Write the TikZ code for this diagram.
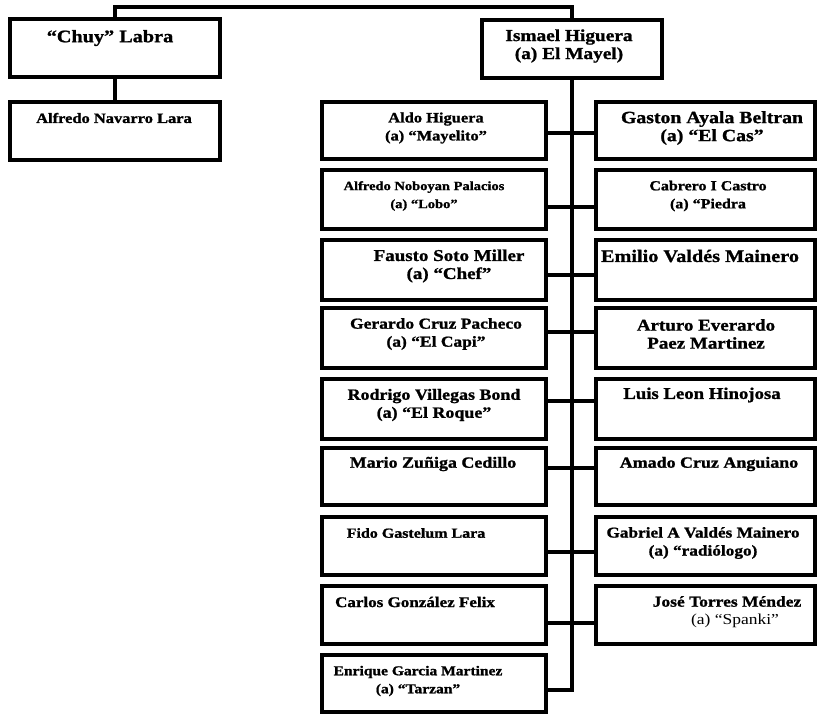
\documentclass[tikz,border=0pt]{standalone}
\usepackage{fontspec}
\setmainfont{Liberation Serif}[FakeStretch=1.15, BoldFeatures={FakeBold=1.2}]
\newcommand{\fsz}[1]{\fontsize{#1}{18}\selectfont\bfseries}
\begin{document}
\begin{tikzpicture}[x=1pt,y=1pt,
  box/.style={draw, line width=4pt, inner sep=0pt},
  lbl/.style={align=center, inner sep=0pt},
  wire/.style={line width=3.6pt},
  lbox/.style={box, minimum width=224pt},
  rbox/.style={box, minimum width=219pt}]
\useasboundingbox (0,0) rectangle (820,-715);
% top level
\node[box, minimum width=210pt, minimum height=58pt] (chuy) at (115,-48) {};
\node[lbl, font=\fsz{17.6}] (tchuy) at (110,-38) {“Chuy” Labra};
\node[box, minimum width=210pt, minimum height=58pt] (alfnav) at (115,-131) {};
\node[lbl, font=\fsz{14.3}] (talfnav) at (114,-118) {Alfredo Navarro Lara};
\node[box, minimum width=180pt, minimum height=58pt] (ismael) at (572,-49) {};
\node[lbl, font=\fsz{16.8}] (tismael) at (569,-46) {Ismael Higuera\\(a) El Mayel)};
% row 1
\node[lbox, minimum height=57pt] (L1) at (434,-130.5) {};
\node[lbl, font=\fsz{14.3}] (tL1) at (436,-128) {Aldo Higuera\\(a) “Mayelito”};
\node[rbox, minimum height=57pt] (R1) at (705.5,-130.5) {};
\node[lbl, font=\fsz{17.2}] (tR1) at (712,-128) {Gaston Ayala Beltran\\(a) “El Cas”};
% row 2
\node[lbox, minimum height=59pt] (L2) at (434,-199.5) {};
\node[lbl, font=\fsz{12.6}] (tL2) at (424,-196) {Alfredo Noboyan Palacios\\(a) “Lobo”};
\node[rbox, minimum height=59pt] (R2) at (705.5,-199.5) {};
\node[lbl, font=\fsz{13.9}] (tR2) at (708,-196) {Cabrero I Castro\\(a) “Piedra};
% row 3
\node[lbox, minimum height=60pt] (L3) at (434,-270) {};
\node[lbl, font=\fsz{16.5}] (tL3) at (449,-266) {Fausto Soto Miller\\(a) “Chef”};
\node[rbox, minimum height=60pt] (R3) at (705.5,-270) {};
\node[lbl, font=\fsz{17.6}] (tR3) at (700,-256) {Emilio Valdés Mainero};
% row 4
\node[lbox, minimum height=60pt] (L4) at (434,-338) {};
\node[lbl, font=\fsz{15.2}] (tL4) at (436,-334) {Gerardo Cruz Pacheco\\(a) “El Capi”};
\node[rbox, minimum height=60pt] (R4) at (705.5,-338) {};
\node[lbl, font=\fsz{16.5}] (tR4) at (706,-334) {Arturo Everardo\\Paez Martinez};
% row 5
\node[lbox, minimum height=60pt] (L5) at (434,-409) {};
\node[lbl, font=\fsz{15.6}] (tL5) at (434,-405) {Rodrigo Villegas Bond\\(a) “El Roque”};
\node[rbox, minimum height=60pt] (R5) at (705.5,-409) {};
\node[lbl, font=\fsz{16.3}] (tR5) at (702,-395) {Luis Leon Hinojosa};
% row 6
\node[lbox, minimum height=57pt] (L6) at (434,-476.5) {};
\node[lbl, font=\fsz{15.6}] (tL6) at (433,-464) {Mario Zuñiga Cedillo};
\node[rbox, minimum height=57pt] (R6) at (705.5,-476.5) {};
\node[lbl, font=\fsz{15.6}] (tR6) at (709,-464) {Amado Cruz Anguiano};
% row 7
\node[lbox, minimum height=58pt] (L7) at (434,-546) {};
\node[lbl, font=\fsz{13.9}] (tL7) at (416,-533) {Fido Gastelum Lara};
\node[rbox, minimum height=58pt] (R7) at (705.5,-546) {};
\node[lbl, font=\fsz{15}] (tR7) at (703,-543) {Gabriel A Valdés Mainero\\(a) “radiólogo)};
% row 8
\node[lbox, minimum height=58pt] (L8) at (434,-615) {};
\node[lbl, font=\fsz{14.8}] (tL8) at (415,-602) {Carlos González Felix};
\node[rbox, minimum height=58pt] (R8) at (705.5,-615) {};
\node[lbl, font=\fsz{15.2}] (tR8) at (727,-612) {José Torres Méndez\\\hspace*{16pt}{\mdseries (a) “Spanki”}};
% row 9
\node[lbox, minimum height=57pt] (L9) at (434,-683.5) {};
\node[lbl, font=\fsz{13.5}] (tL9) at (418,-681) {Enrique Garcia Martinez\\(a) “Tarzan”};
% connectors
\draw[wire] (chuy.north) -- ++(0,10) -| (ismael.north);
\draw[wire] (chuy.south) -- (alfnav.north);
\coordinate (spineend) at (572,-690);
\draw[wire] (ismael.south) -- (spineend) -- (L9.east |- spineend);
\coordinate (c1) at (572,-133);
\coordinate (c2) at (572,-207);
\coordinate (c3) at (572,-275);
\coordinate (c4) at (572,-332);
\coordinate (c5) at (572,-401);
\coordinate (c6) at (572,-468);
\coordinate (c7) at (572,-552);
\coordinate (c8) at (572,-623);
\foreach \i in {1,...,8} {
  \draw[wire] (L\i.east |- c\i) -- (R\i.west |- c\i);
}
\end{tikzpicture}
\end{document}
